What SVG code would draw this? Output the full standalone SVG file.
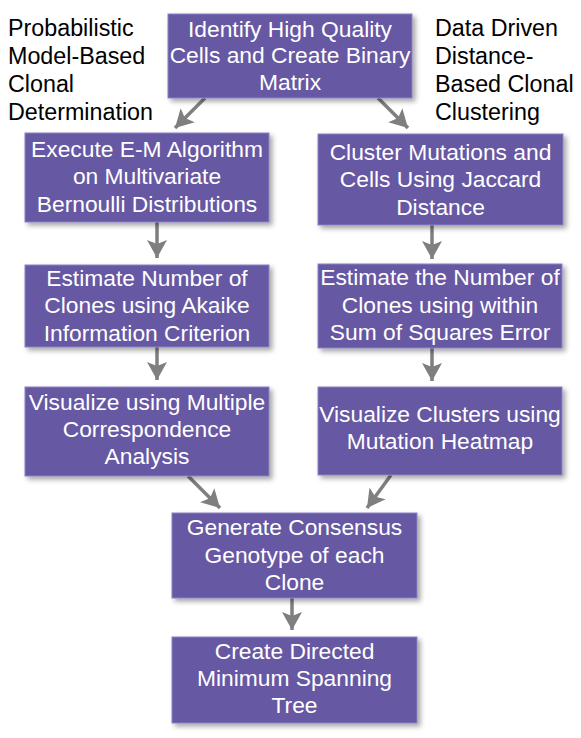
<svg xmlns="http://www.w3.org/2000/svg" width="581" height="738" viewBox="0 0 581 738">
<defs>
<filter id="sh" x="-10%" y="-10%" width="125%" height="130%">
<feDropShadow dx="3" dy="3" stdDeviation="2.5" flood-color="#000" flood-opacity="0.35"/>
</filter>
<marker id="ah" viewBox="0 0 20 20" markerWidth="20" markerHeight="20" refX="18" refY="10" orient="auto" markerUnits="userSpaceOnUse">
<path d="M0,0 L18,10 L0,20 L4,10 Z" fill="#7f7f7f"/>
</marker>
<style>
.box{fill:#6659a3;stroke:#8b82c4;stroke-width:1;filter:url(#sh)}
.t{font-family:"Liberation Sans",Arial,sans-serif;font-size:22.8px;fill:#fff;text-anchor:middle}
.lab{font-family:"Liberation Sans",Arial,sans-serif;font-size:23.3px;fill:#000}
.c{stroke:#7f7f7f;stroke-width:3.5;fill:none;marker-end:url(#ah)}
</style>
</defs>
<rect width="581" height="738" fill="#fff"/>
<g id="connectors">
<line class="c" x1="205" y1="98" x2="175" y2="128"/>
<line class="c" x1="378" y1="98" x2="408" y2="128"/>
<line class="c" x1="157" y1="222" x2="157" y2="258"/>
<line class="c" x1="432" y1="225" x2="432" y2="259"/>
<line class="c" x1="157" y1="347" x2="157" y2="380"/>
<line class="c" x1="432" y1="348" x2="432" y2="381"/>
<line class="c" x1="188" y1="476" x2="220" y2="508"/>
<line class="c" x1="391" y1="475" x2="367" y2="508"/>
<line class="c" x1="292" y1="598" x2="292" y2="630"/>
</g>
<g id="label-left">
<text class="lab" x="8" y="36">Probabilistic</text>
<text class="lab" x="8" y="64">Model-Based</text>
<text class="lab" x="8" y="92">Clonal</text>
<text class="lab" x="8" y="120">Determination</text>
</g>
<g id="label-right">
<text class="lab" x="435" y="36">Data Driven</text>
<text class="lab" x="435" y="64">Distance-</text>
<text class="lab" x="435" y="92">Based Clonal</text>
<text class="lab" x="435" y="120">Clustering</text>
</g>
<g id="n-identify">
<rect class="box" x="168" y="14" width="244" height="84"/>
<text class="t" x="290" y="37">Identify High Quality</text>
<text class="t" x="290" y="63">Cells and Create Binary</text>
<text class="t" x="290" y="90">Matrix</text>
</g>
<g id="n-em">
<rect class="box" x="25" y="133" width="244" height="89"/>
<text class="t" x="147" y="157">Execute E-M Algorithm</text>
<text class="t" x="147" y="184">on Multivariate</text>
<text class="t" x="147" y="212">Bernoulli Distributions</text>
</g>
<g id="n-cluster">
<rect class="box" x="318" y="134" width="245" height="91"/>
<text class="t" x="440.5" y="160">Cluster Mutations and</text>
<text class="t" x="440.5" y="187">Cells Using Jaccard</text>
<text class="t" x="440.5" y="215">Distance</text>
</g>
<g id="n-aic">
<rect class="box" x="25" y="265" width="244" height="82"/>
<text class="t" x="147" y="286">Estimate Number of</text>
<text class="t" x="147" y="313">Clones using Akaike</text>
<text class="t" x="147" y="341">Information Criterion</text>
</g>
<g id="n-sse">
<rect class="box" x="318" y="264" width="244" height="84"/>
<text class="t" x="440" y="285">Estimate the Number of</text>
<text class="t" x="440" y="313">Clones using within</text>
<text class="t" x="440" y="340">Sum of Squares Error</text>
</g>
<g id="n-mca">
<rect class="box" x="25" y="387" width="244" height="89"/>
<text class="t" x="147" y="410">Visualize using Multiple</text>
<text class="t" x="147" y="437">Correspondence</text>
<text class="t" x="147" y="464">Analysis</text>
</g>
<g id="n-heatmap">
<rect class="box" x="318" y="387" width="244" height="88"/>
<text class="t" x="440" y="422">Visualize Clusters using</text>
<text class="t" x="440" y="449">Mutation Heatmap</text>
</g>
<g id="n-consensus">
<rect class="box" x="172" y="513" width="245" height="85"/>
<text class="t" x="294.5" y="535">Generate Consensus</text>
<text class="t" x="294.5" y="563">Genotype of each</text>
<text class="t" x="294.5" y="590">Clone</text>
</g>
<g id="n-mst">
<rect class="box" x="172" y="637" width="245" height="86"/>
<text class="t" x="294.5" y="659">Create Directed</text>
<text class="t" x="294.5" y="686">Minimum Spanning</text>
<text class="t" x="294.5" y="713">Tree</text>
</g>
</svg>
